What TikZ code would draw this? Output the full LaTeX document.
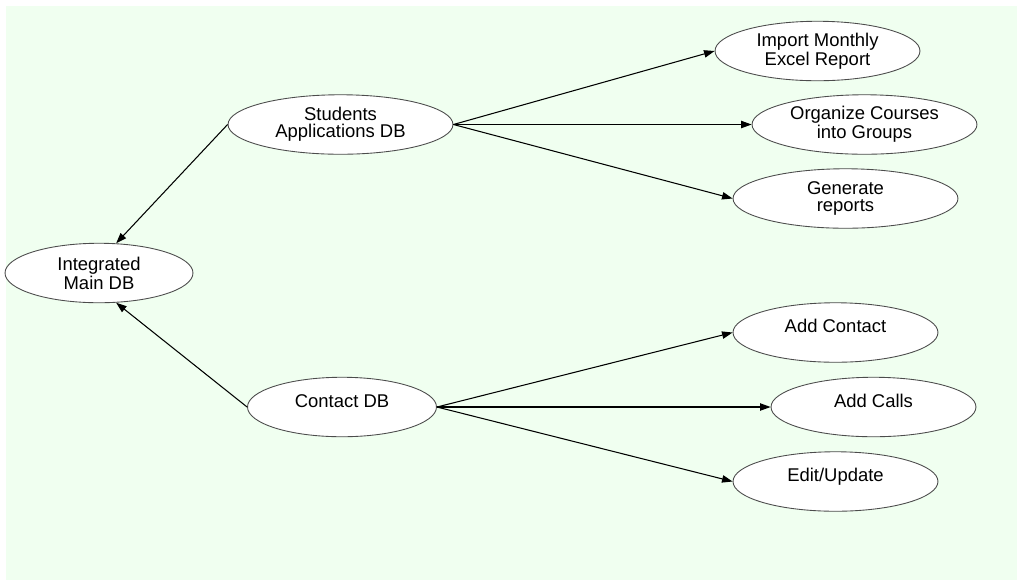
\documentclass[tikz,border=0pt]{standalone}
\usepackage{fontspec}
\setmainfont{Liberation Sans}
\usetikzlibrary{shapes.geometric, arrows.meta}
\definecolor{bgcolor}{RGB}{240,255,240}

\begin{document}
\begin{tikzpicture}[
			x=0.02cm, y=-0.02cm,
			db_node/.style={
				ellipse,
				draw=black!70,
				fill=white,
				line width=0.5pt,
				inner sep=0pt,
				minimum height=1.19cm,
				align=center,
				font=\fontsize{10.5}{9.6}\selectfont
			},
			one_line/.style={
				text height=1.4ex,
				text depth=1.4ex
			},
			line/.style={
				-{Triangle[length=6pt,width=4.2pt]},
				line width=0.6pt
			}
			]
			
			% Background
			
			\path[fill=white] (0,0) rectangle (1019,583);
			\fill[bgcolor] (6,6) rectangle (1017,580);
			
			% Databases
			
			\node [db_node, minimum width=3.76cm] (main_db) at (99,273) {Integrated\\Main DB};
			\node [db_node, minimum width=4.5cm] (students_db) at (340.5,124.5) {Students\\Applications DB};
			\node [db_node, one_line, minimum width=3.78cm] (contact_db) at (342,407) {Contact DB};
			
			% Tasks
			
			\node [db_node, minimum width=4.1cm] (import) at (817.5,51) {Import Monthly\\Excel Report};
			\node [db_node, minimum width=4.5cm] (organize) at (864.5,124.5) {Organize Courses\\into Groups};
			\node [db_node, minimum width=4.5cm] (reports) at (845.5,198.5) {Generate\\reports};
			
			\node [db_node, one_line, minimum width=4.1cm] (add_contact) at (835.5,332.5) {Add Contact};
			\node [db_node, one_line, minimum width=4.1cm] (add_calls) at (873.5,407) {Add Calls};
			\node [db_node, one_line, minimum width=4.1cm] (edit) at (835.5,481.5) {Edit/Update};
			
			% Connections
			
			\draw[line] (students_db.west) -- (main_db.60);
			\draw[line] (contact_db.west) -- (main_db.-60);
			
			\draw[line] (students_db.east) -- (import.west);
			\draw[line] (students_db.east) -- (organize.west);
			\draw[line] (students_db.east) -- (reports.west);
			
			\draw[line] (contact_db.east) -- (add_contact.west);
			\draw[line] (contact_db.east) -- (add_calls.west);
			\draw[line] (contact_db.east) -- (edit.west);
			
		\end{tikzpicture}
\end{document}
